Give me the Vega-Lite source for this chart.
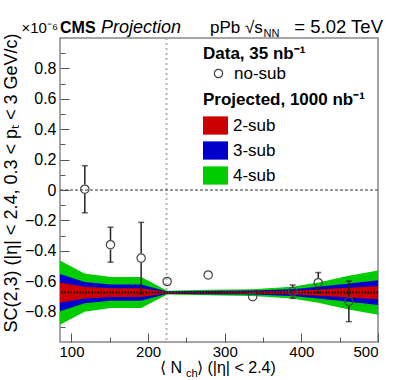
{
  "$schema": "https://vega.github.io/schema/vega-lite/v6.json",
  "width": 318,
  "height": 304,
  "autosize": {"type": "none"},
  "padding": {"left": 60, "top": 38, "right": 21, "bottom": 38},
  "background": "white",
  "datasets": {
    "bands": [
      {"n": 85, "method": "4-sub", "lo": -0.887, "hi": -0.463},
      {"n": 117, "method": "4-sub", "lo": -0.801, "hi": -0.549},
      {"n": 151, "method": "4-sub", "lo": -0.777, "hi": -0.573},
      {"n": 191, "method": "4-sub", "lo": -0.777, "hi": -0.573},
      {"n": 225, "method": "4-sub", "lo": -0.687, "hi": -0.663},
      {"n": 278, "method": "4-sub", "lo": -0.693, "hi": -0.657},
      {"n": 336, "method": "4-sub", "lo": -0.697, "hi": -0.653},
      {"n": 388, "method": "4-sub", "lo": -0.713, "hi": -0.637},
      {"n": 422, "method": "4-sub", "lo": -0.742, "hi": -0.608},
      {"n": 462, "method": "4-sub", "lo": -0.786, "hi": -0.564},
      {"n": 500, "method": "4-sub", "lo": -0.820, "hi": -0.530},
      {"n": 85, "method": "3-sub", "lo": -0.798, "hi": -0.552},
      {"n": 117, "method": "3-sub", "lo": -0.745, "hi": -0.605},
      {"n": 151, "method": "3-sub", "lo": -0.729, "hi": -0.621},
      {"n": 191, "method": "3-sub", "lo": -0.729, "hi": -0.621},
      {"n": 225, "method": "3-sub", "lo": -0.682, "hi": -0.668},
      {"n": 278, "method": "3-sub", "lo": -0.686, "hi": -0.664},
      {"n": 336, "method": "3-sub", "lo": -0.688, "hi": -0.662},
      {"n": 388, "method": "3-sub", "lo": -0.697, "hi": -0.653},
      {"n": 422, "method": "3-sub", "lo": -0.713, "hi": -0.637},
      {"n": 462, "method": "3-sub", "lo": -0.735, "hi": -0.615},
      {"n": 500, "method": "3-sub", "lo": -0.757, "hi": -0.593},
      {"n": 85, "method": "2-sub", "lo": -0.741, "hi": -0.609},
      {"n": 117, "method": "2-sub", "lo": -0.713, "hi": -0.637},
      {"n": 151, "method": "2-sub", "lo": -0.704, "hi": -0.646},
      {"n": 191, "method": "2-sub", "lo": -0.704, "hi": -0.646},
      {"n": 225, "method": "2-sub", "lo": -0.679, "hi": -0.671},
      {"n": 278, "method": "2-sub", "lo": -0.680, "hi": -0.670},
      {"n": 336, "method": "2-sub", "lo": -0.682, "hi": -0.668},
      {"n": 388, "method": "2-sub", "lo": -0.686, "hi": -0.664},
      {"n": 422, "method": "2-sub", "lo": -0.695, "hi": -0.655},
      {"n": 462, "method": "2-sub", "lo": -0.707, "hi": -0.643},
      {"n": 500, "method": "2-sub", "lo": -0.718, "hi": -0.632}
    ],
    "points": [
      {"n": 117.4, "sc": 0.005, "lo": -0.150, "hi": 0.160, "method": "no-sub"},
      {"n": 150.9, "sc": -0.360, "lo": -0.475, "hi": -0.245, "method": "no-sub"},
      {"n": 190.9, "sc": -0.448, "lo": -0.683, "hi": -0.213, "method": "no-sub"},
      {"n": 224.8, "sc": -0.602, "lo": null, "hi": null, "method": "no-sub"},
      {"n": 278.4, "sc": -0.559, "lo": null, "hi": null, "method": "no-sub"},
      {"n": 336.4, "sc": -0.702, "lo": null, "hi": null, "method": "no-sub"},
      {"n": 388.6, "sc": -0.669, "lo": -0.713, "hi": -0.625, "method": "no-sub"},
      {"n": 422.0, "sc": -0.610, "lo": -0.678, "hi": -0.543, "method": "no-sub"},
      {"n": 462.0, "sc": -0.733, "lo": -0.866, "hi": -0.599, "method": "no-sub"}
    ]
  },
  "config": {
    "font": "Liberation Sans",
    "view": {"stroke": "#888888", "strokeWidth": 1.5},
    "axis": {
      "domain": false, "grid": false, "tickColor": "#555555", "tickWidth": 1,
      "labelColor": "#000000", "titleColor": "#000000",
      "labelFont": "Liberation Sans", "titleFont": "Liberation Sans",
      "labelFontSize": 15, "titleFontSize": 18, "titleFontWeight": "normal"
    },
    "legend": {
      "titleFont": "Liberation Sans", "labelFont": "Liberation Sans",
      "titleColor": "#000000", "labelColor": "#000000",
      "titleFontSize": 17, "labelFontSize": 17, "titleFontWeight": "bold",
      "padding": 0
    },
    "text": {"font": "Liberation Sans", "color": "#000000", "baseline": "alphabetic", "align": "left"}
  },
  "resolve": {"axis": {"x": "independent", "y": "independent"}},
  "layer": [
    {
      "data": {"values": [{}]},
      "mark": {"type": "rule", "color": "#b0b0b0", "strokeWidth": 2, "strokeDash": [2, 3]},
      "encoding": {"x": {"datum": 224, "type": "quantitative", "axis": null}}
    },
    {
      "data": {"values": [{}]},
      "mark": {"type": "rule", "color": "#333333", "strokeWidth": 1, "strokeDash": [3, 2]},
      "encoding": {"y": {"datum": 0, "type": "quantitative", "axis": null}}
    },
    {
      "data": {"name": "bands"},
      "transform": [{"filter": "datum.method === '4-sub'"}],
      "mark": {"type": "area", "opacity": 1},
      "encoding": {
        "x": {"field": "n", "type": "quantitative",
          "scale": {"domain": [85, 500], "nice": false, "zero": false},
          "axis": {"orient": "bottom", "values": [100, 200, 300, 400, 500], "format": "d",
            "tickSize": -9, "labelPadding": 11, "title": null}},
        "y": {"field": "lo", "type": "quantitative", "stack": null,
          "scale": {"domain": [-1, 1], "nice": false, "zero": false},
          "axis": {"orient": "left", "values": [-0.8, -0.6, -0.4, -0.2, 0, 0.2, 0.4, 0.6, 0.8], "format": ".1~f",
            "tickSize": -9, "labelPadding": 13, "labelFontSize": 16,
            "title": "SC(2,3) (|η| < 2.4, 0.3 < pₜ < 3 GeV/c)", "titleAnchor": "end", "titleY": -5, "titlePadding": 4}},
        "y2": {"field": "hi"},
        "color": {"field": "method", "type": "nominal",
          "scale": {"domain": ["2-sub", "3-sub", "4-sub"], "range": ["#cc0000", "#0000cc", "#00cc00"]},
          "legend": {"title": "Projected, 1000 nb⁻¹", "orient": "none", "legendX": 143, "legendY": 54,
            "titlePadding": 4, "labelOffset": 5, "rowPadding": 3,
            "symbolType": "M-1,-0.73L1,-0.73L1,0.73L-1,0.73Z", "symbolSize": 625,
            "symbolStrokeWidth": 0, "symbolOpacity": 1}}
      }
    },
    {
      "data": {"name": "bands"},
      "transform": [{"filter": "datum.method === '3-sub'"}],
      "mark": {"type": "area", "opacity": 1},
      "encoding": {
        "x": {"field": "n", "type": "quantitative", "axis": null},
        "y": {"field": "lo", "type": "quantitative", "stack": null, "axis": null},
        "y2": {"field": "hi"},
        "color": {"field": "method", "type": "nominal"}
      }
    },
    {
      "data": {"name": "bands"},
      "transform": [{"filter": "datum.method === '2-sub'"}],
      "mark": {"type": "area", "opacity": 1},
      "encoding": {
        "x": {"field": "n", "type": "quantitative", "axis": null},
        "y": {"field": "lo", "type": "quantitative", "stack": null, "axis": null},
        "y2": {"field": "hi"},
        "color": {"field": "method", "type": "nominal"}
      }
    },
    {
      "data": {"values": [{}]},
      "mark": {"type": "rule", "color": "#111111", "strokeWidth": 2, "strokeDash": [1.5, 1.5]},
      "encoding": {"y": {"datum": -0.675, "type": "quantitative", "axis": null}}
    },
    {
      "data": {"name": "points"},
      "transform": [{"filter": "isValid(datum.hi)"}],
      "mark": {"type": "rule", "color": "#222222", "strokeWidth": 1.5, "y2Offset": -4.8},
      "encoding": {
        "x": {"field": "n", "type": "quantitative", "axis": null},
        "y": {"field": "hi", "type": "quantitative", "axis": null},
        "y2": {"field": "sc"}
      }
    },
    {
      "data": {"name": "points"},
      "transform": [{"filter": "isValid(datum.lo)"}],
      "mark": {"type": "rule", "color": "#222222", "strokeWidth": 1.5, "yOffset": 4.8},
      "encoding": {
        "x": {"field": "n", "type": "quantitative", "axis": null},
        "y": {"field": "sc", "type": "quantitative", "axis": null},
        "y2": {"field": "lo"}
      }
    },
    {
      "data": {"name": "points"},
      "transform": [{"filter": "isValid(datum.hi)"}],
      "mark": {"type": "tick", "orient": "horizontal", "color": "#222222", "size": 6, "thickness": 1.5},
      "encoding": {
        "x": {"field": "n", "type": "quantitative", "axis": null},
        "y": {"field": "hi", "type": "quantitative", "axis": null}
      }
    },
    {
      "data": {"name": "points"},
      "transform": [{"filter": "isValid(datum.lo)"}],
      "mark": {"type": "tick", "orient": "horizontal", "color": "#222222", "size": 6, "thickness": 1.5},
      "encoding": {
        "x": {"field": "n", "type": "quantitative", "axis": null},
        "y": {"field": "lo", "type": "quantitative", "axis": null}
      }
    },
    {
      "data": {"name": "points"},
      "mark": {"type": "point", "filled": false, "stroke": "#444444", "strokeWidth": 1.2, "size": 70, "opacity": 1},
      "encoding": {
        "x": {"field": "n", "type": "quantitative",
          "axis": {"orient": "bottom", "values": [150, 250, 350, 450], "tickSize": -5, "labels": false, "title": null}},
        "y": {"field": "sc", "type": "quantitative",
          "axis": {"orient": "left", "values": [-0.9, -0.7, -0.5, -0.3, -0.1, 0.1, 0.3, 0.5, 0.7, 0.9], "tickSize": -5, "labels": false, "title": null}},
        "shape": {"field": "method", "type": "nominal", "scale": {"range": ["circle"]},
          "legend": {"title": "Data, 35 nb⁻¹", "orient": "none", "legendX": 143, "legendY": 8,
            "titlePadding": 2, "symbolOffset": 7, "labelOffset": 7,
            "symbolSize": 70, "symbolStrokeColor": "#444444", "symbolFillColor": "transparent", "symbolStrokeWidth": 1.2}}
      }
    },
    {
      "data": {"values": [{"t": "×10⁻⁶"}]},
      "mark": {"type": "text", "align": "right", "fontSize": 15},
      "encoding": {"text": {"field": "t"}, "x": {"datum": 82.5, "type": "quantitative", "axis": null}, "y": {"datum": 1.033, "type": "quantitative", "axis": null}}
    },
    {
      "data": {"values": [{"t": "CMS"}]},
      "mark": {"type": "text", "fontSize": 16, "fontWeight": "bold"},
      "encoding": {"text": {"field": "t"}, "x": {"datum": 85, "type": "quantitative", "axis": null}, "y": {"datum": 1.033, "type": "quantitative", "axis": null}}
    },
    {
      "data": {"values": [{"t": "Projection"}]},
      "mark": {"type": "text", "fontSize": 18, "fontStyle": "italic"},
      "encoding": {"text": {"field": "t"}, "x": {"datum": 138.5, "type": "quantitative", "axis": null}, "y": {"datum": 1.033, "type": "quantitative", "axis": null}}
    },
    {
      "data": {"values": [{"t": "pPb √s"}]},
      "mark": {"type": "text", "fontSize": 17},
      "encoding": {"text": {"field": "t"}, "x": {"datum": 280.7, "type": "quantitative", "axis": null}, "y": {"datum": 1.033, "type": "quantitative", "axis": null}}
    },
    {
      "data": {"values": [{"t": "NN"}]},
      "mark": {"type": "text", "fontSize": 11},
      "encoding": {"text": {"field": "t"}, "x": {"datum": 350.5, "type": "quantitative", "axis": null}, "y": {"datum": 1.007, "type": "quantitative", "axis": null}}
    },
    {
      "data": {"values": [{"t": "= 5.02 TeV"}]},
      "mark": {"type": "text", "fontSize": 18.5, "align": "right"},
      "encoding": {"text": {"field": "t"}, "x": {"datum": 506.5, "type": "quantitative", "axis": null}, "y": {"datum": 1.033, "type": "quantitative", "axis": null}}
    },
    {
      "data": {"values": [{"t": "⟨ N"}]},
      "mark": {"type": "text", "fontSize": 16},
      "encoding": {"text": {"field": "t"}, "x": {"datum": 215.5, "type": "quantitative", "axis": null}, "y": {"datum": -1.204, "type": "quantitative", "axis": null}}
    },
    {
      "data": {"values": [{"t": "ch"}]},
      "mark": {"type": "text", "fontSize": 11},
      "encoding": {"text": {"field": "t"}, "x": {"datum": 249.4, "type": "quantitative", "axis": null}, "y": {"datum": -1.23, "type": "quantitative", "axis": null}}
    },
    {
      "data": {"values": [{"t": "⟩ (|η| < 2.4)"}]},
      "mark": {"type": "text", "fontSize": 16},
      "encoding": {"text": {"field": "t"}, "x": {"datum": 263.8, "type": "quantitative", "axis": null}, "y": {"datum": -1.204, "type": "quantitative", "axis": null}}
    }
  ]
}
